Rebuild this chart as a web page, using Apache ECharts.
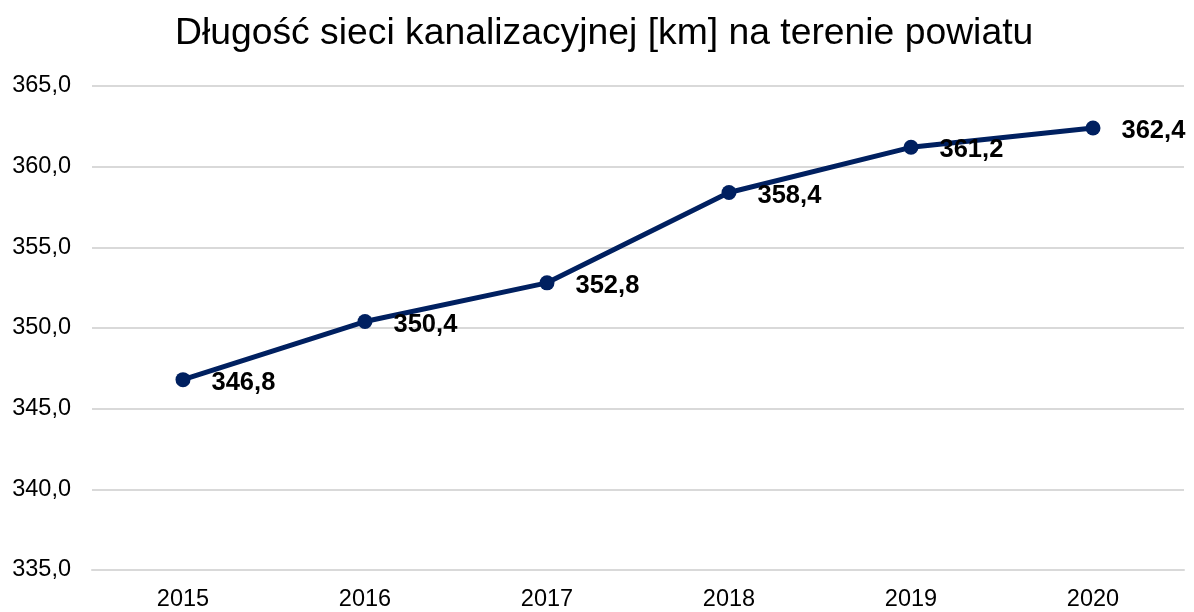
<!DOCTYPE html>
<html>
<head>
<meta charset="utf-8">
<script src="https://cdn.jsdelivr.net/npm/echarts@6/dist/echarts.min.js"></script>
<style>
html,body{margin:0;padding:0;background:#fff;}
#chart{width:1194px;height:612px;}
</style>
</head>
<body>
<div id="chart"></div>
<script>
const titleText = 'Długość sieci kanalizacyjnej [km] na terenie powiatu';
const years = ['2015', '2016', '2017', '2018', '2019', '2020'];
const lengthKm = [346.8, 350.4, 352.8, 358.4, 361.2, 362.4];

const chart = echarts.init(document.getElementById('chart'));
const fmt = v => v.toFixed(1).replace('.', ',');
chart.setOption({
  animation: false,
  backgroundColor: '#ffffff',
  textStyle: { fontFamily: '"Liberation Sans", Arial, sans-serif' },
  title: {
    text: titleText,
    left: 170,
    top: 10,
    textStyle: { fontSize: 37.3, fontWeight: 'normal', color: '#000000', fontFamily: '"Liberation Sans", Arial, sans-serif' }
  },
  grid: { left: 92, right: 10, top: 86, bottom: 40 },
  xAxis: {
    type: 'category',
    data: years,
    boundaryGap: true,
    axisLine: { show: true, lineStyle: { color: '#d9d9d9', width: 2 } },
    axisTick: { show: false },
    axisLabel: { fontSize: 23.5, color: '#000000', margin: 18 }
  },
  yAxis: {
    type: 'value',
    min: 335,
    max: 365,
    interval: 5,
    axisLine: { show: false },
    axisTick: { show: false },
    splitLine: { lineStyle: { color: '#d9d9d9', width: 2 } },
    axisLabel: { fontSize: 23.5, color: '#000000', margin: 21, formatter: v => fmt(v) }
  },
  series: [{
    type: 'line',
    data: lengthKm,
    symbol: 'circle',
    symbolSize: 15,
    lineStyle: { color: '#002060', width: 5 },
    itemStyle: { color: '#002060' },
    label: {
      show: true,
      position: 'right',
      distance: 21,
      offset: [0, 3],
      fontSize: 25.5,
      fontWeight: 'bold',
      color: '#000000',
      formatter: p => fmt(p.value)
    }
  }]
});
</script>
</body>
</html>
